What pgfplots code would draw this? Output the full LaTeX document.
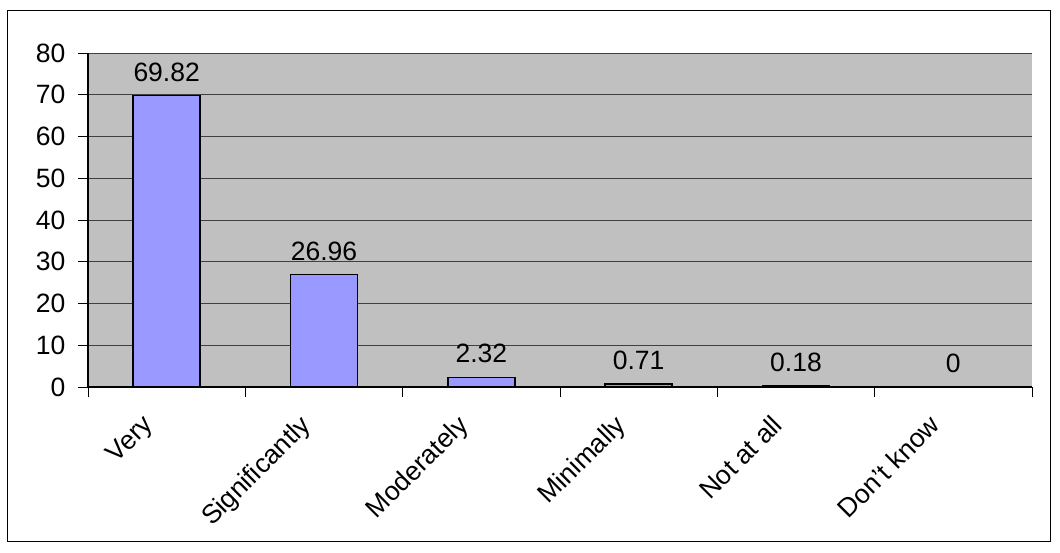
\documentclass[border=0pt]{standalone}
\usepackage{fontspec}
\setmainfont{Liberation Sans}
\usepackage{pgfplots}
\pgfplotsset{compat=1.18}
\definecolor{barblue}{HTML}{9999FF}
\definecolor{plotgray}{HTML}{C0C0C0}
\begin{document}
\begin{tikzpicture}[x=1pt,y=1pt]
\useasboundingbox (-88,-165) rectangle (972,387);
\fill[white] (-88,-165) rectangle (972,387);
\draw[black, line width=1pt] (-80,-154) rectangle (962,376);
\begin{axis}[
  at={(0,0)}, anchor=south west,
  scale only axis, width=944pt, height=334pt,
  xmin=-0.5, xmax=5.5, ymin=0, ymax=80,
  ytick={0,10,...,80},
  xtick={0,...,5},
  xticklabels={Very,Significantly,Moderately,Minimally,Not at all,Don't know},
  minor xtick={-0.5,0.5,...,5.5},
  major x tick style={draw=none},
  minor x tick style={black, thick},
  y tick style={black, thick},
  tick align=outside,
  major tick length=10pt, minor tick length=10pt,
  ymajorgrids, grid style={black!75, line width=0.8pt},
  axis background/.style={fill=plotgray},
  axis line style={black!60, line width=1pt},
  axis x line*=bottom, axis y line*=left,
  ticklabel style={font=\fontsize{26.5}{30}\selectfont},
  /pgf/number format/assume math mode=true,
  yticklabel style={xshift=-9pt},
  xticklabel style={rotate=45, anchor=north east, xshift=-26pt, yshift=10pt},
  ybar, bar width=67pt,
  nodes near coords,
  nodes near coords style={font=\fontsize{26.5}{30}\selectfont, anchor=south, yshift=10pt, /pgf/number format/.cd, fixed, precision=2},
  clip=false,
]
\addplot[fill=barblue, draw=black, line width=1.6pt] coordinates {(0,69.82) (1,26.96) (2,2.32) (3,0.71) (4,0.18) (5,0)};
\end{axis}
\draw[black, line width=1.2pt] (0,0) -- (944,0);
\draw[black, line width=1.2pt] (0,0) -- (0,334);
\end{tikzpicture}
\end{document}
